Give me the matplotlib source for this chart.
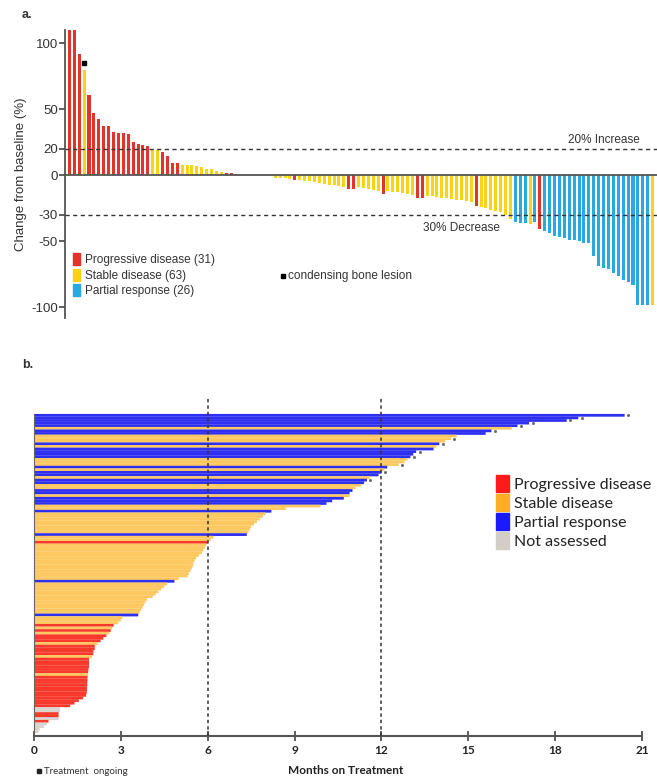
import numpy as np
import matplotlib
matplotlib.use("Agg")
import matplotlib.pyplot as plt
from matplotlib.patches import Patch

# --- panel a: waterfall, best change from baseline (%) ---
wf_values = [125, 125, 92, 80, 61, 47, 43, 37.5, 37, 33, 32, 32, 31, 25, 24, 23, 22,
             19, 19, 18, 15, 9, 9, 8, 8, 7.5, 7, 6, 5, 4.5, 3, 2.5, 1.5, 1.5, 1,
             0, 0, 0, 0, 0, 0, 0,
             -2, -2, -2, -2.5, -3.3, -3.5, -4, -4.5, -5, -6, -6.5, -7, -7.5, -8, -8.5,
             -10.5, -10.5, -9, -9.5, -10, -11, -11.5, -14, -12, -12.5, -13, -13.5, -14, -15,
             -17.5, -17.5, -15.5, -16, -16.5, -17, -17.5, -18, -18.5, -19, -19.5, -20,
             -23, -24, -25, -26, -27, -28, -30, -33, -35, -36, -36, -37, -35, -41,
             -42.5, -44, -46, -47, -47.5, -49, -49, -50, -51, -51, -61, -69, -70, -71,
             -74, -76, -79, -81, -83, -98, -98, -98, -98]
wf_status = ("PPPSPPPPPPPPPPPPPSSPPPPSSSSSSSSSPPP" + "SSSSSSS"
             + "SSSSPSSSSSSSSSSPPSSSSSPSSSSSSPPSSSSSSSSSSPSSSSSSSBBBSBPBBBBBBBBBBBBBBBBBBBBBBS")
bone_lesion_idx = 3
wf_labels = ["Progressive disease (31)", "Stable disease (63)", "Partial response (26)"]
wf_colors = {"P": "#e2342b", "S": "#fad318", "B": "#2aa8e2"}

# --- panel b: swimmer plot, months on treatment (top row first) ---
sw_months = [20.4, 18.8, 18.4, 17.1, 16.7, 16.5, 15.8, 15.6, 14.6, 14.4, 14.2, 14.0,
             13.9, 13.8, 13.2, 13.1, 13.0, 12.9, 12.8, 12.6, 12.2, 12.1, 12.0, 11.9,
             11.6, 11.5, 11.4, 11.3, 11.1, 11.0, 10.9, 10.9, 10.7, 10.3, 10.1, 9.9,
             8.7, 8.2, 8.0, 7.9, 7.8, 7.7, 7.6, 7.5, 7.45, 7.4, 7.35, 6.2, 6.1, 6.0,
             5.95, 5.9, 5.85, 5.8, 5.7, 5.6, 5.55, 5.5, 5.5, 5.45, 5.4, 5.35,
             5.3, 5.0, 4.85, 4.6, 4.5, 4.4, 4.3, 4.2, 4.1, 3.9, 3.85, 3.8, 3.75,
             3.7, 3.65, 3.6, 3.05, 3.0, 2.9, 2.75, 2.7, 2.65, 2.6, 2.5, 2.4,
             2.3, 2.2, 2.1, 2.1, 2.05, 2.05, 2.0, 1.9, 1.9, 1.9, 1.9, 1.88, 1.87,
             1.87, 1.85, 1.85, 1.84, 1.84, 1.83, 1.83, 1.82, 1.8, 1.7, 1.55, 1.4,
             1.25, 0.9, 0.9, 0.85, 0.85, 0.85, 0.5, 0.45, 0.35, 0.2, 0.15]
sw_status = ("BBBBBSBBSSSB"
             + "SBBBBSSSBSBB"
             + "SBBSSBBSBBBS"
             + "SBSSSSSSSSBSSP"
             + "SSSSSSSSSSSS"
             + "SSBSSSSSSSSSS"
             + "SSBSSSPSPSPP"
             + "PSPPPPSPPPPPP"
             + "SPPPPPPPPPPP"
             + "PNNPPNPNNNN")
sw_ongoing = [0, 1, 2, 3, 4, 6, 9, 11, 14, 16, 19, 22, 25]
sw_labels = ["Progressive disease", "Stable disease", "Partial response", "Not assessed"]
sw_colors = {"P": "#f8392b", "S": "#fdc860", "B": "#2f2ff2", "N": "#d8d3ce"}
leg_colors = ["#ff1a1a", "#ffad22", "#1a1aff", "#d3cdc7"]

W, H = 657, 781
plt.rcParams["font.family"] = ["Liberation Sans", "DejaVu Sans"]
plt.rcParams["axes.unicode_minus"] = False
fig = plt.figure(figsize=(W / 100, H / 100), dpi=100)

# ---------------- panel a ----------------
ax1 = fig.add_axes([65 / W, 1 - 318 / H, 592 / W, 288 / H])
x = np.arange(len(wf_values))
ax1.bar(x, wf_values, width=0.62, color=[wf_colors[s] for s in wf_status], zorder=2)
ax1.set_xlim(-0.9, 119.9)
ax1.set_ylim(-108, 110)
ax1.axhline(0, color="#555555", lw=1.3, zorder=3)
for yy in (20, -30):
    ax1.axhline(yy, color="#333333", lw=1.0, ls=(0, (3, 2.5)), zorder=4)
ax1.plot(bone_lesion_idx, 85, "s", ms=3, color="black", zorder=5)
ax1.text(109, 22.5, "20% Increase", fontsize=8.5, color="#333333", ha="center", va="bottom")
ax1.text(80, -39.5, "30% Decrease", fontsize=8.5, color="#333333", ha="center", va="center")
for sp in ("top", "right", "bottom"):
    ax1.spines[sp].set_visible(False)
ax1.spines["left"].set_color("#555555")
ax1.spines["left"].set_linewidth(1.3)
ax1.set_xticks([])
ax1.set_yticks([100, 50, 20, 0, -30, -50, -100])
ax1.tick_params(axis="y", labelsize=9.5, colors="#333333", length=4, width=1.1, pad=1)
ax1.set_ylabel("Change from baseline (%)", fontsize=9.5, color="#333333", labelpad=3)

handles = [Patch(color=wf_colors[k]) for k in "PSB"]
fig.legend(handles, wf_labels, loc="upper left", bbox_to_anchor=(73 / W, 1 - 253 / H),
           frameon=False, fontsize=8.5, handlelength=0.6, handleheight=1.2,
           handletextpad=0.4, labelspacing=0.22, borderaxespad=0, borderpad=0,
           labelcolor="#333333")
fig.lines.append(plt.Line2D([283 / W], [1 - 276 / H], marker="s", ms=3, color="black",
                            transform=fig.transFigure))
fig.text(288 / W, 1 - 276 / H, "condensing bone lesion", fontsize=8.5, color="#333333",
         va="center")
fig.text(22 / W, 1 - 15 / H, "a.", fontsize=9, fontweight="bold", va="center", color="#333333")

# ---------------- panel b ----------------
ax2 = fig.add_axes([34 / W, 1 - 736 / H, 608 / W, 338 / H])
n = len(sw_months)
y = n - 1 - np.arange(n)
bars = ax2.barh(y, sw_months, height=1.06, color=[sw_colors[s] for s in sw_status],
                linewidth=0, zorder=2)
for b in bars:
    b.set_snap(False)
ongoing = np.array(sw_ongoing)
ax2.plot(np.array(sw_months)[ongoing] + 0.12, y[ongoing], "s", ms=1.0, color="#666666",
         zorder=3)
row_px = (733 - 414) / n
ax2.set_ylim(-0.5 - 3 / row_px, n - 0.5 + 16 / row_px)
ax2.set_xlim(0, 21)
for xx in (6, 12):
    ax2.axvline(xx, color="#333333", lw=1.1, ls=(0, (2.2, 2)), zorder=4)
for sp in ("top", "right"):
    ax2.spines[sp].set_visible(False)
ax2.spines["left"].set_bounds(-0.5, n - 0.5)
ax2.spines["left"].set_color("#666666")
ax2.spines["bottom"].set_color("#555555")
ax2.spines["bottom"].set_linewidth(1.5)
ax2.set_yticks([])
ax2.set_xticks(np.arange(0, 22, 3))
ax2.tick_params(axis="x", direction="inout", length=7, width=1.2, colors="#444444",
                labelsize=8.5, pad=3)
for lab in ax2.get_xticklabels():
    lab.set_fontweight("bold")
    lab.set_family(["Lato", "DejaVu Sans"])
    lab.set_color("#222222")

fig.text(346 / W, 1 - 771 / H, "Months on Treatment", fontsize=8.5, fontweight="bold",
         family=["Lato", "DejaVu Sans"], ha="center", va="center", color="#222222")
fig.lines.append(plt.Line2D([39 / W], [1 - 771 / H], marker="s", ms=3.5, color="#222222",
                            transform=fig.transFigure))
fig.text(44 / W, 1 - 771 / H, "Treatment  ongoing", fontsize=7,
         family=["Lato", "DejaVu Sans"], va="center", color="#333333")
fig.text(22 / W, 1 - 365 / H, "b.", fontsize=9, fontweight="bold", va="center", color="#333333")

handles = [Patch(color=c) for c in leg_colors]
fig.legend(handles, sw_labels, loc="upper left", bbox_to_anchor=(496 / W, 1 - 475 / H),
           frameon=False, prop={"family": ["Lato", "DejaVu Sans"], "size": 11.5},
           handlelength=0.8, handleheight=1.3, handletextpad=0.35, labelspacing=0.1,
           borderaxespad=0, borderpad=0, labelcolor="#222222")

fig.savefig("out.png", dpi=100)
